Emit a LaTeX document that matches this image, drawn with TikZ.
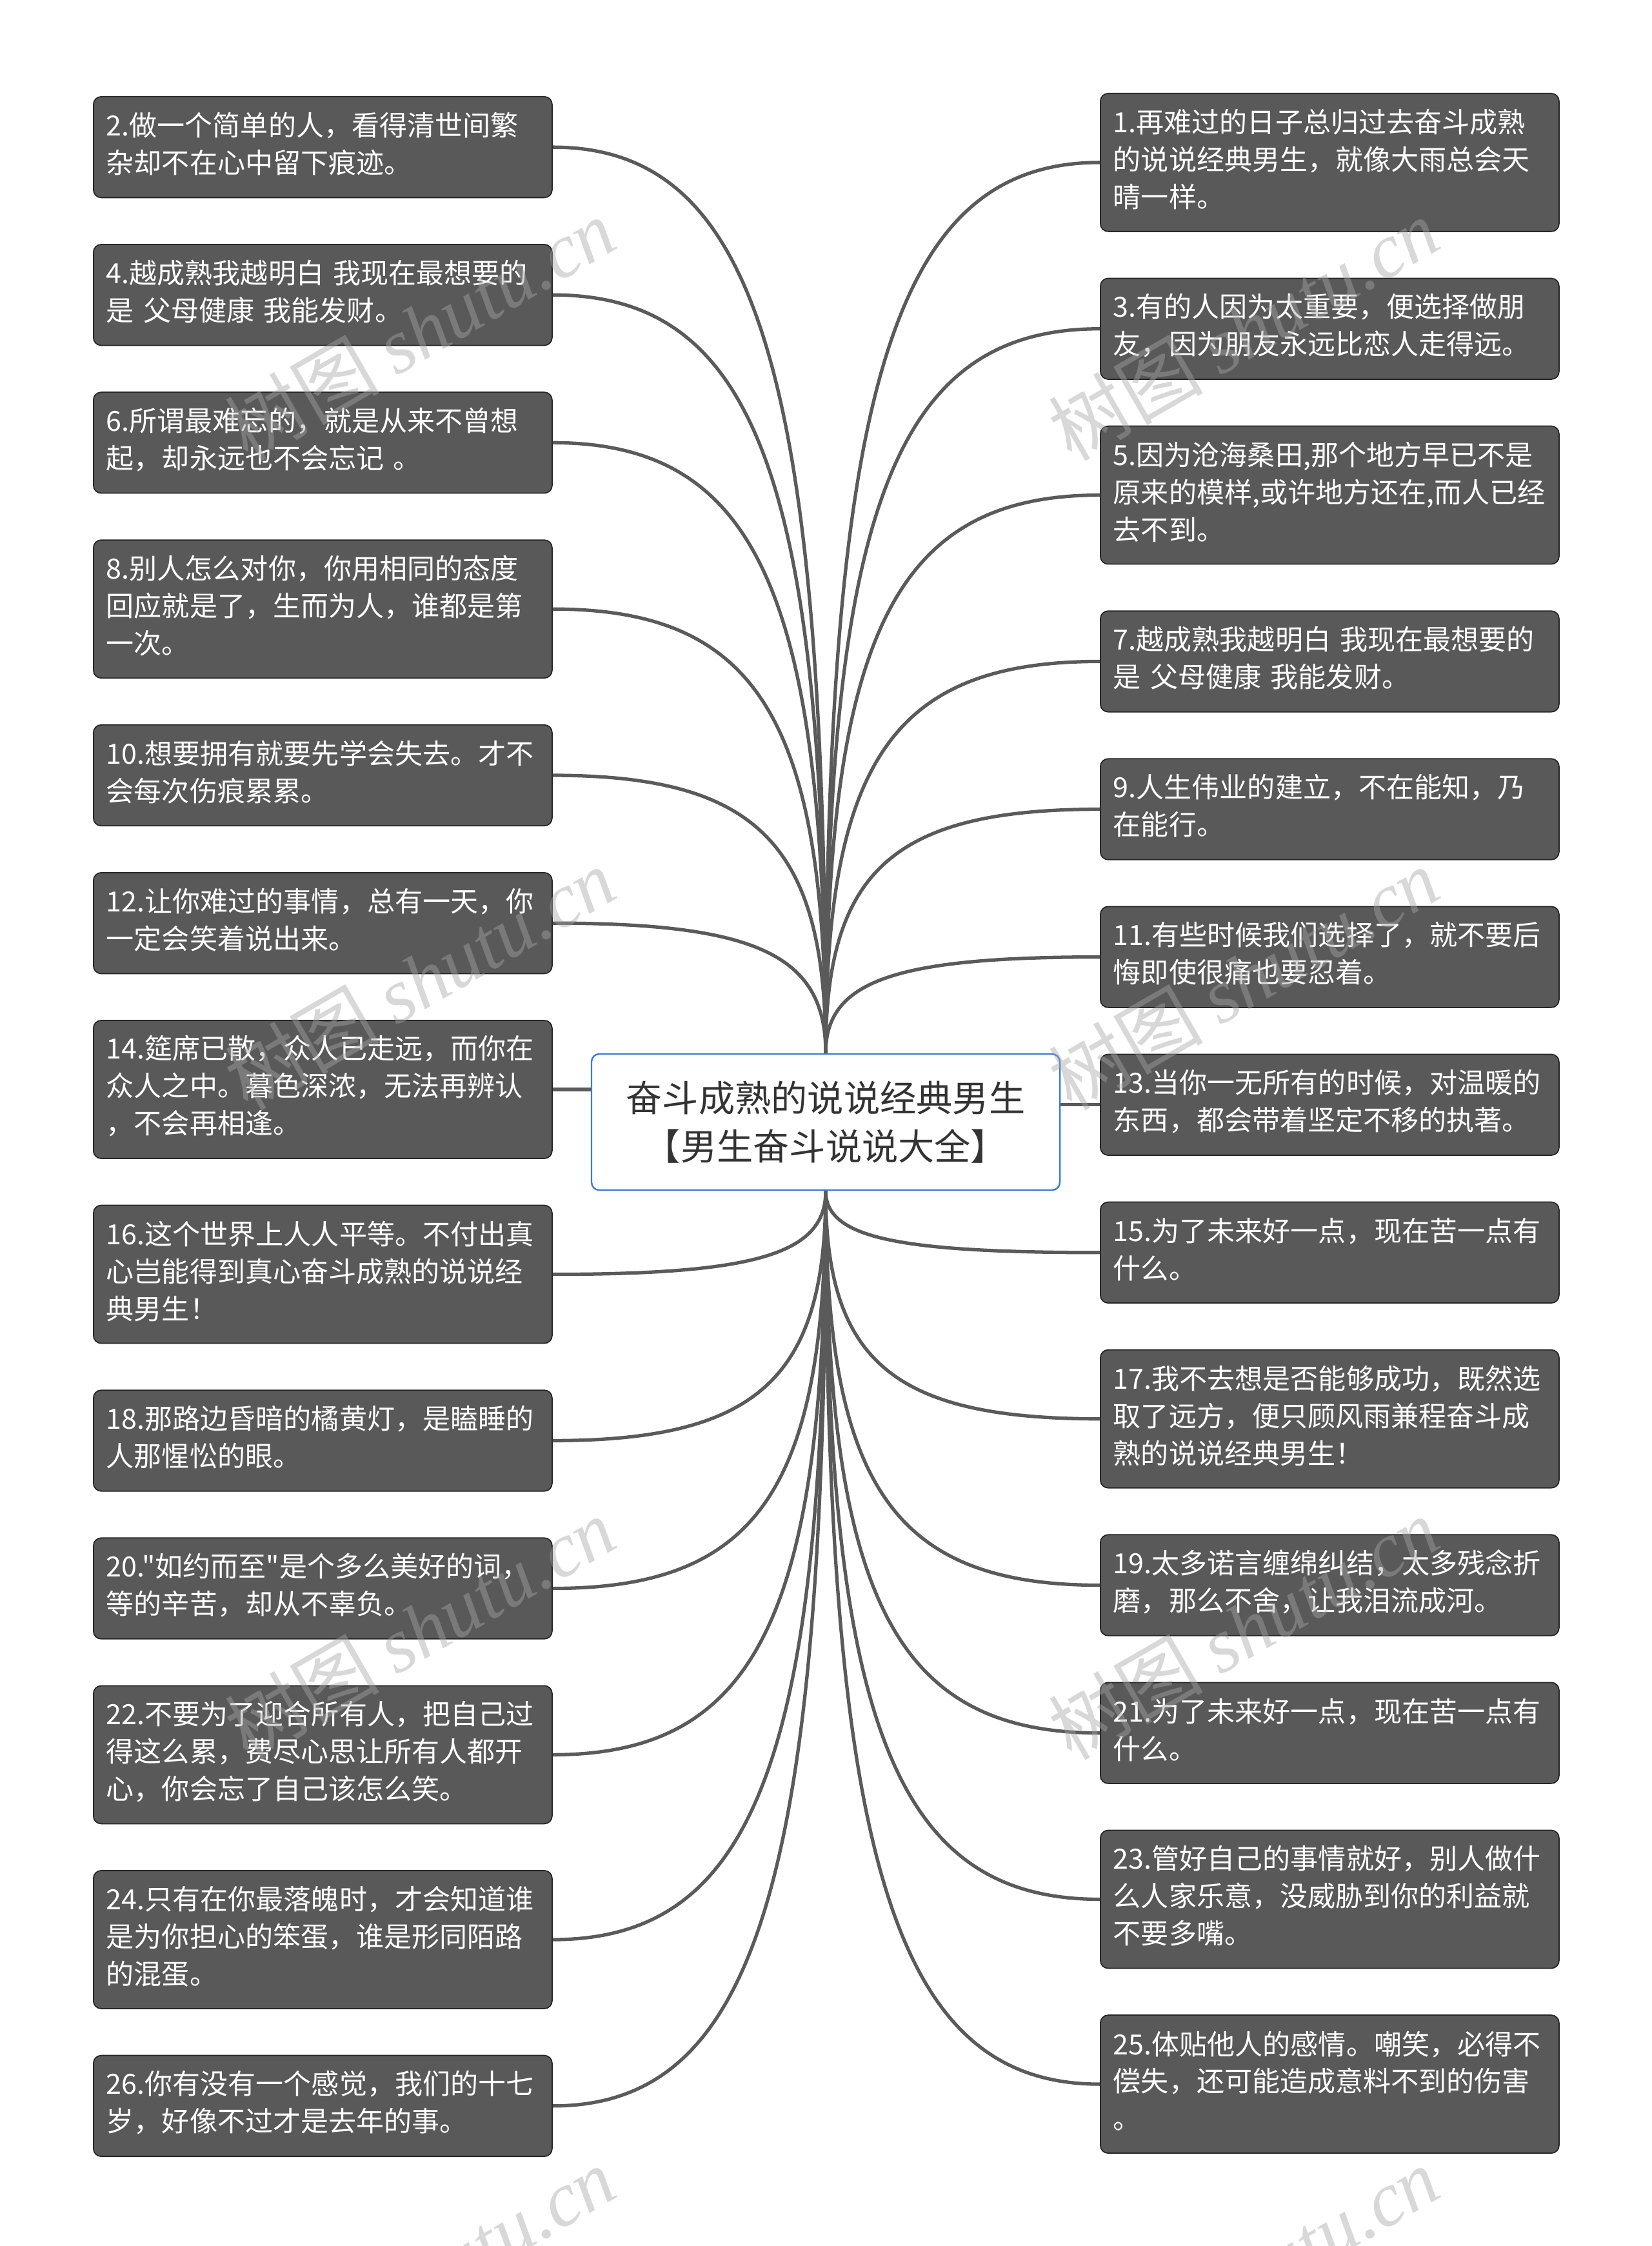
\documentclass[tikz,border=0pt]{standalone}
\usepackage{fontspec}
\setmainfont{Noto Sans CJK SC}
\newfontfamily\plaincjk{Noto Sans CJK SC}
\newfontfamily\wmserif{Liberation Serif}
\usetikzlibrary{calc}

\definecolor{boxgray}{HTML}{595959}
\definecolor{linegray}{HTML}{5A5A5A}
\definecolor{rootblue}{HTML}{3D7BD6}
\definecolor{roottext}{HTML}{333333}
\definecolor{wmgray}{HTML}{A6A6A6}

% curved branch from the root to a saying
\newcommand{\branch}[2]{\draw[link] (#1) .. controls ($(#1)!0.75!(#1|-#2)$) and ($(#2)!0.75!(#1|-#2)$) .. (#2);}
\newcommand{\liftup}{\par\kern0.1cm}

\begin{document}
\begin{tikzpicture}[saying/.style = {rectangle, rounded corners=0.12cm, draw=black!85, line width=0.5pt, fill=boxgray, text=white, anchor=north west, align=left, text width=6.71cm, inner xsep=0.2cm, inner ysep=0, font=\plaincjk\fontsize{12.25}{16.5}\selectfont, execute at end node=\liftup},
                    two/.style   = {minimum height=1.565cm},
                    three/.style = {minimum height=2.14cm},
                    topic/.style = {rectangle, rounded corners=0.12cm, draw=rootblue, line width=0.7pt, fill=white, text=roottext, align=center, minimum width=7.26cm, minimum height=2.11cm, font=\fontsize{16}{21.3}\selectfont},
                    link/.style  = {draw=linegray, line width=1.5pt},
                    wm/.style    = {text=wmgray, opacity=0.43, rotate=30, font=\fontsize{34}{34}\selectfont}]
    \useasboundingbox (0,0) rectangle (25.6,-34.82);
    \fill[white] (0,0) rectangle (25.6,-34.82);

    \node[topic] (root) at (12.80,-17.395) {奋斗成熟的说说经典男生\\【男生奋斗说说大全】};

    \node[saying, two]   (s2)  at (1.44,-1.49)   {2.做一个简单的人，看得清世间繁\\杂却不在心中留下痕迹。};
    \node[saying, two]   (s4)  at (1.44,-3.781)  {4.越成熟我越明白 我现在最想要的\\是 父母健康 我能发财。};
    \node[saying, two]   (s6)  at (1.44,-6.072)  {6.所谓最难忘的，就是从来不曾想\\起，却永远也不会忘记 。};
    \node[saying, three] (s8)  at (1.44,-8.363)  {8.别人怎么对你，你用相同的态度\\回应就是了，生而为人，谁都是第\\一次。};
    \node[saying, two]   (s10) at (1.44,-11.229) {10.想要拥有就要先学会失去。才不\\会每次伤痕累累。};
    \node[saying, two]   (s12) at (1.44,-13.52)  {12.让你难过的事情，总有一天，你\\一定会笑着说出来。};
    \node[saying, three] (s14) at (1.44,-15.811) {14.筵席已散，众人已走远，而你在\\众人之中。暮色深浓，无法再辨认\\，不会再相逢。};
    \node[saying, three] (s16) at (1.44,-18.677) {16.这个世界上人人平等。不付出真\\心岂能得到真心奋斗成熟的说说经\\典男生！};
    \node[saying, two]   (s18) at (1.44,-21.543) {18.那路边昏暗的橘黄灯，是瞌睡的\\人那惺忪的眼。};
    \node[saying, two]   (s20) at (1.44,-23.834) {20."如约而至"是个多么美好的词，\\等的辛苦，却从不辜负。};
    \node[saying, three] (s22) at (1.44,-26.125) {22.不要为了迎合所有人，把自己过\\得这么累，费尽心思让所有人都开\\心，你会忘了自己该怎么笑。};
    \node[saying, three] (s24) at (1.44,-28.991) {24.只有在你最落魄时，才会知道谁\\是为你担心的笨蛋，谁是形同陌路\\的混蛋。};
    \node[saying, two]   (s26) at (1.44,-31.857) {26.你有没有一个感觉，我们的十七\\岁，好像不过才是去年的事。};

    \node[saying, three] (s1)  at (17.05,-1.44)   {1.再难过的日子总归过去奋斗成熟\\的说说经典男生，就像大雨总会天\\晴一样。};
    \node[saying, two]   (s3)  at (17.05,-4.306)  {3.有的人因为太重要，便选择做朋\\友，因为朋友永远比恋人走得远。};
    \node[saying, three] (s5)  at (17.05,-6.597)  {5.因为沧海桑田,那个地方早已不是\\原来的模样,或许地方还在,而人已经\\去不到。};
    \node[saying, two]   (s7)  at (17.05,-9.463)  {7.越成熟我越明白 我现在最想要的\\是 父母健康 我能发财。};
    \node[saying, two]   (s9)  at (17.05,-11.754) {9.人生伟业的建立，不在能知，乃\\在能行。};
    \node[saying, two]   (s11) at (17.05,-14.045) {11.有些时候我们选择了，就不要后\\悔即使很痛也要忍着。};
    \node[saying, two]   (s13) at (17.05,-16.336) {13.当你一无所有的时候，对温暖的\\东西，都会带着坚定不移的执著。};
    \node[saying, two]   (s15) at (17.05,-18.627) {15.为了未来好一点，现在苦一点有\\什么。};
    \node[saying, three] (s17) at (17.05,-20.918) {17.我不去想是否能够成功，既然选\\取了远方，便只顾风雨兼程奋斗成\\熟的说说经典男生！};
    \node[saying, two]   (s19) at (17.05,-23.784) {19.太多诺言缠绵纠结，太多残念折\\磨，那么不舍，让我泪流成河。};
    \node[saying, two]   (s21) at (17.05,-26.075) {21.为了未来好一点，现在苦一点有\\什么。};
    \node[saying, three] (s23) at (17.05,-28.366) {23.管好自己的事情就好，别人做什\\么人家乐意，没威胁到你的利益就\\不要多嘴。};
    \node[saying, three] (s25) at (17.05,-31.232) {25.体贴他人的感情。嘲笑，必得不\\偿失，还可能造成意料不到的伤害\\。};

    \branch{root.north}{s2.east}
    \branch{root.north}{s4.east}
    \branch{root.north}{s6.east}
    \branch{root.north}{s8.east}
    \branch{root.north}{s10.east}
    \branch{root.north}{s12.east}
    \draw[link] (root.west|-s14.east) -- (s14.east);
    \branch{root.south}{s16.east}
    \branch{root.south}{s18.east}
    \branch{root.south}{s20.east}
    \branch{root.south}{s22.east}
    \branch{root.south}{s24.east}
    \branch{root.south}{s26.east}

    \branch{root.north}{s1.west}
    \branch{root.north}{s3.west}
    \branch{root.north}{s5.west}
    \branch{root.north}{s7.west}
    \branch{root.north}{s9.west}
    \branch{root.north}{s11.west}
    \draw[link] (root.east|-s13.west) -- (s13.west);
    \branch{root.south}{s15.west}
    \branch{root.south}{s17.west}
    \branch{root.south}{s19.west}
    \branch{root.south}{s21.west}
    \branch{root.south}{s23.west}
    \branch{root.south}{s25.west}

    \node[wm] (wm1) at (6.51,-5.10)   {树图 {\wmserif\itshape shutu.cn}};
    \node[wm] (wm2) at (6.51,-15.17)  {树图 {\wmserif\itshape shutu.cn}};
    \node[wm] (wm3) at (6.51,-25.24)  {树图 {\wmserif\itshape shutu.cn}};
    \node[wm] (wm4) at (6.51,-35.31)  {树图 {\wmserif\itshape shutu.cn}};
    \node[wm] (wm5) at (19.28,-5.10)  {树图 {\wmserif\itshape shutu.cn}};
    \node[wm] (wm6) at (19.28,-15.17) {树图 {\wmserif\itshape shutu.cn}};
    \node[wm] (wm7) at (19.28,-25.24) {树图 {\wmserif\itshape shutu.cn}};
    \node[wm] (wm8) at (19.28,-35.31) {树图 {\wmserif\itshape shutu.cn}};
  \end{tikzpicture}
\end{document}
